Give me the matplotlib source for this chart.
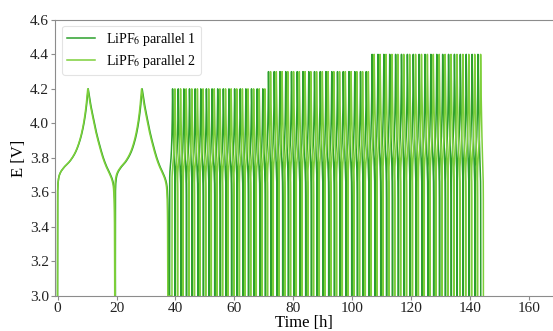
import numpy as np
import matplotlib
matplotlib.use("Agg")
import matplotlib.pyplot as plt

plt.rcParams["font.family"] = ["Liberation Serif", "DejaVu Serif"]
plt.rcParams["mathtext.fontset"] = "stix"

# Series
series_names = ["LiPF$_6$ parallel 1", "LiPF$_6$ parallel 2"]
series_colors = ["#2ca02c", "#7dcf3a"]

# Voltage profile of one charge step (fraction of step time, voltage at 4.2 V cut-off)
charge_frac = [0.0, 0.004, 0.02, 0.06, 0.19, 0.40, 0.58, 0.73, 0.84, 0.93, 1.0]
charge_volt = [3.0, 3.60, 3.66, 3.70, 3.74, 3.78, 3.83, 3.90, 3.98, 4.08, 4.20]

# Voltage profile of one discharge step
discharge_frac = [0.0, 0.08, 0.18, 0.30, 0.43, 0.56, 0.68, 0.80, 0.90, 0.95, 0.975, 0.99, 1.0]
discharge_volt = [4.20, 4.12, 4.04, 3.95, 3.87, 3.80, 3.75, 3.71, 3.67, 3.63, 3.56, 3.42, 3.0]

# Slow formation cycles per cell: start, top of charge, end [h]
formation_start_1 = [0.0, 19.6]
formation_peak_1 = [10.4, 28.7]
formation_end_1 = [19.6, 37.6]
formation_start_2 = [0.0, 19.4]
formation_peak_2 = [10.25, 28.5]
formation_end_2 = [19.4, 37.4]
formation_vmax = [4.2, 4.2]

# Fast cycling blocks with increasing upper cut-off voltage (block edges per cell) [h]
block_edges_1 = [38.0, 70.5, 105.6, 143.5]
block_edges_2 = [38.8, 71.2, 106.3, 144.4]
block_cycles = [17, 18, 19]
block_vmax = [4.2, 4.3, 4.4]
charge_share = 0.53

x_ticks = [0, 20, 40, 60, 80, 100, 120, 140, 160]
y_ticks = [3.0, 3.2, 3.4, 3.6, 3.8, 4.0, 4.2, 4.4, 4.6]


def pchip(xk, yk, x):
    xk = np.asarray(xk, float)
    yk = np.asarray(yk, float)
    h = np.diff(xk)
    d = np.diff(yk) / h
    m = np.zeros_like(yk)
    for i in range(1, len(xk) - 1):
        if d[i - 1] * d[i] > 0:
            w1 = 2 * h[i] + h[i - 1]
            w2 = h[i] + 2 * h[i - 1]
            m[i] = (w1 + w2) / (w1 / d[i - 1] + w2 / d[i])
    m[0] = d[0]
    m[-1] = d[-1]
    idx = np.clip(np.searchsorted(xk, x) - 1, 0, len(xk) - 2)
    t = (x - xk[idx]) / h[idx]
    h00 = 2 * t**3 - 3 * t**2 + 1
    h10 = t**3 - 2 * t**2 + t
    h01 = -2 * t**3 + 3 * t**2
    h11 = t**3 - t**2
    return (h00 * yk[idx] + h10 * h[idx] * m[idx]
            + h01 * yk[idx + 1] + h11 * h[idx] * m[idx + 1])


def step(t0, t1, frac, volt, vmax, n=200):
    f = np.linspace(0, 1, n)
    v = pchip(frac, volt, f)
    base = 3.6
    v = np.where(v > base, base + (v - base) * (vmax - base) / (4.2 - base), v)
    return t0 + f * (t1 - t0), v


def cycle(t0, tp, t1, vmax):
    tc, vc = step(t0, tp, charge_frac, charge_volt, vmax)
    td, vd = step(tp, t1, discharge_frac, discharge_volt, vmax)
    return np.concatenate([tc, td]), np.concatenate([vc, vd])


def build(f_start, f_peak, f_end, edges_list):
    ts, vs = [], []
    for s, p, e, vm in zip(f_start, f_peak, f_end, formation_vmax):
        t, v = cycle(s, p, e, vm)
        ts.append(t)
        vs.append(v)
    for s, e, n, vm in zip(edges_list[:-1], edges_list[1:], block_cycles, block_vmax):
        edges = np.linspace(s, e, n + 1)
        for a, b in zip(edges[:-1], edges[1:]):
            t, v = cycle(a, a + charge_share * (b - a), b, vm)
            ts.append(t)
            vs.append(v)
    return np.concatenate(ts), np.concatenate(vs)


cells = [
    (formation_start_1, formation_peak_1, formation_end_1, block_edges_1),
    (formation_start_2, formation_peak_2, formation_end_2, block_edges_2),
]

fig = plt.figure(figsize=(5.53, 3.31), dpi=100)
ax = fig.add_axes([0.0995, 0.106, 0.9005, 0.834])

for name, col, cell in zip(series_names, series_colors, cells):
    t, v = build(*cell)
    ax.plot(t, v, color=col, lw=1.1, label=name)

ax.set_xlim(-0.85, 168.0)
ax.set_ylim(3.0, 4.6)
ax.set_xticks(x_ticks)
ax.set_yticks(y_ticks)
ax.set_yticklabels([f"{y:.1f}" for y in y_ticks])

for side in ["left", "bottom", "top"]:
    ax.spines[side].set_color("#8c8c8c")
ax.spines["right"].set_visible(False)
ax.tick_params(axis="both", colors="#8c8c8c", labelcolor="#222222",
               labelsize=11, length=3, width=0.8, pad=1.5)

ax.set_xlabel("Time [h]", fontsize=12, labelpad=0)
ax.set_ylabel("E [V]", fontsize=12, labelpad=2)

leg = ax.legend(loc="upper left", fontsize=10, frameon=True,
                bbox_to_anchor=(0.014, 0.979), borderaxespad=0.0,
                handlelength=2.0, borderpad=0.35, labelspacing=0.4,
                handletextpad=0.8)
leg.get_frame().set_edgecolor("#dddddd")
leg.get_frame().set_linewidth(0.8)

fig.savefig("out.png", dpi=100)
